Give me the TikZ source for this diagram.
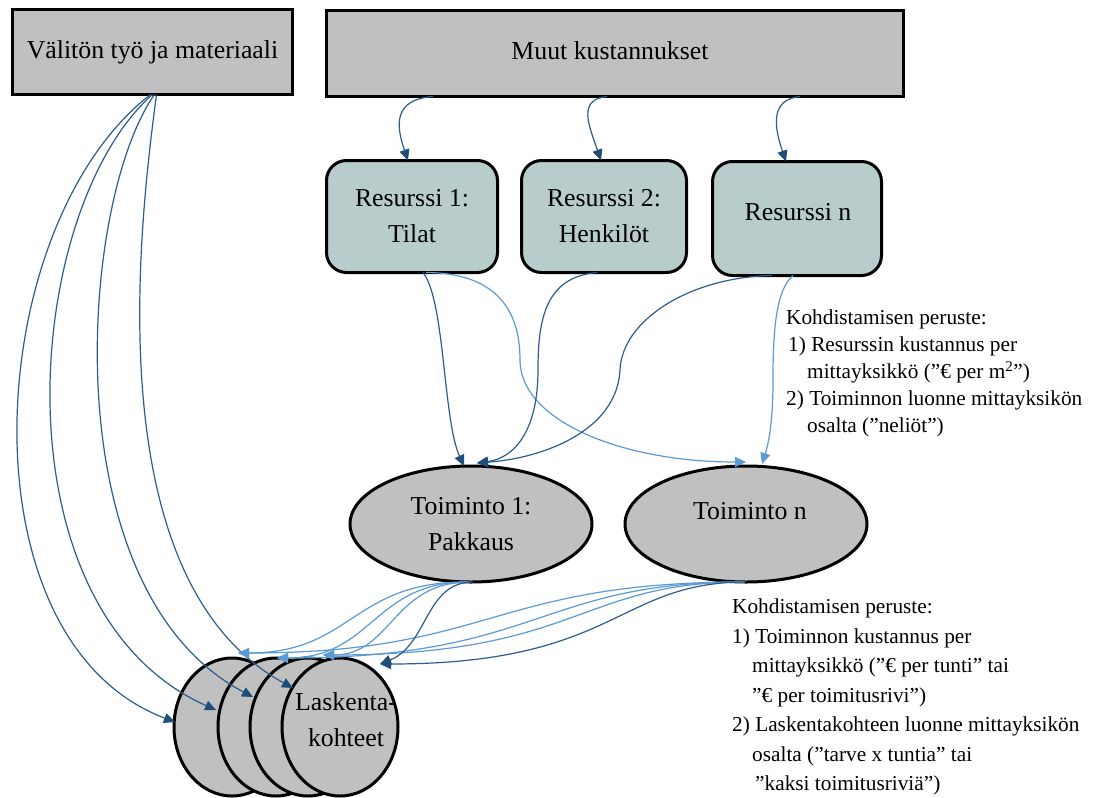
\documentclass[tikz,border=0pt]{standalone}
\usepackage{fontspec}
\setmainfont{Liberation Serif}
\usetikzlibrary{arrows.meta,calc,shapes.geometric}
\definecolor{boxgray}{HTML}{C0C0C0}
\definecolor{resfill}{HTML}{B9CCCC}
\definecolor{darkflow}{HTML}{2C5D8F}
\definecolor{darktip}{HTML}{1F4E79}
\definecolor{lightflow}{HTML}{5B9BD5}
\newcommand{\boxfont}{\fontsize{25.8pt}{36pt}\selectfont}
\newcommand{\notefont}{\fontsize{21.3pt}{27pt}\selectfont}
\newcommand{\notefontb}{\fontsize{21.3pt}{29.5pt}\selectfont}
\begin{document}
\begin{tikzpicture}[x=1pt,y=-1pt,
  costbox/.style={draw=black,line width=3pt,fill=boxgray,rectangle,inner sep=0pt,outer sep=0pt,font=\boxfont,align=center},
  resbox/.style={draw=black,line width=3pt,fill=resfill,rectangle,rounded corners=20pt,inner sep=0pt,outer sep=0pt,font=\boxfont,align=center},
  actell/.style={draw=black,line width=3pt,fill=boxgray,ellipse,inner sep=0pt,outer sep=0pt,minimum width=242pt,minimum height=116pt,font=\boxfont,align=center},
  objell/.style={draw=black,line width=3pt,fill=boxgray,ellipse,inner sep=0pt,outer sep=0pt,minimum width=116pt,minimum height=138pt},
  boxtext/.style={font=\boxfont,align=center,inner sep=0pt},
  darkcon/.style={draw=darkflow,line width=1.2pt,-{Triangle[length=11pt,width=10pt,color=darktip]}},
  lightcon/.style={draw=lightflow,line width=1.2pt,-{Triangle[length=11pt,width=10pt]}},
  note/.style={align=left,inner sep=0pt,anchor=north west}]

\fill[white] (0,0) rectangle (1101,798);
\useasboundingbox (0,0) rectangle (1101,798);

% cost sources
\node[costbox,minimum width=280pt,minimum height=85pt] (direct) at (152.5,52) {Välitön työ ja materiaali};
\node[costbox,minimum width=577pt,minimum height=86pt] (other) at (615,53.5) {};
\node[boxtext] (otherlabel) at (610,51) {Muut kustannukset};

% resources
\node[resbox,minimum width=171pt,minimum height=112pt] (r1) at (412,216.5) {Resurssi 1:\\Tilat};
\node[resbox,minimum width=165pt,minimum height=112pt] (r2) at (604,216.5) {Resurssi 2:\\Henkilöt};
\node[resbox,minimum width=169pt,minimum height=114pt] (rn) at (797,218.5) {};
\node[boxtext] (rnlabel) at (798,212) {Resurssi n};

% activities
\node[actell] (t1) at (471,524) {Toiminto 1:\\Pakkaus};
\node[actell] (tn) at (746,524) {};
\node[boxtext] (tnlabel) at (750,511) {Toiminto n};

% cost objects, back to front
\node[objell] (l1) at (232,727) {};
\node[objell] (l2) at (276,727) {};
\node[objell] (l3) at (308,727) {};
\node[objell] (l4) at (340,727) {};
\node[boxtext] (lname) at (346,720) {Laskenta-\\kohteet};

% allocation bases
\node[note,font=\notefont] (basis1) at (786,310) {Kohdistamisen peruste:\\
\hspace*{2pt}1) Resurssin kustannus per\\
\hspace*{21pt}mittayksikkö (”€ per m\textsuperscript{2}”)\\
2) Toiminnon luonne mittayksikön\\
\hspace*{21pt}osalta (”neliöt”)};
\node[note,font=\notefontb] (basis2) at (732,599) {Kohdistamisen peruste:\\
1) Toiminnon kustannus per\\
\hspace*{20pt}mittayksikkö (”€ per tunti” tai\\
\hspace*{20pt}”€ per toimitusrivi”)\\
2) Laskentakohteen luonne mittayksikön\\
\hspace*{20pt}osalta (”tarve x tuntia” tai\\
\hspace*{23pt}”kaksi toimitusriviä”)};

% other costs -> resources
\draw[darkcon] ($(other.south)+(-182,0)$) .. controls +(-40,3) and +(-12,-35) .. ($(r1.north)+(-4,0)$);
\draw[darkcon] ($(other.south)+(-8,0)$) .. controls +(-30,3) and +(-12,-35) .. ($(r2.north)+(-3,0)$);
\draw[darkcon] ($(other.south)+(185,0)$) .. controls +(-30,3) and +(-12,-35) .. ($(rn.north)+(-11,0)$);

% direct costs -> cost objects
\draw[darkcon] ($(direct.south)+(-2,0)$) .. controls (-18,225) and (-42,640) .. ($(l1.center)+(-57,-5)$);
\draw[darkcon] ($(direct.south)+(0,0)$) .. controls (22,210) and (-8,610) .. ($(l2.center)+(-60,-17)$);
\draw[darkcon] ($(direct.south)+(2,0)$) .. controls (80,200) and (50,590) .. ($(l3.center)+(-55,-30)$);
\draw[darkcon] ($(direct.south)+(4,0)$) .. controls (140,220) and (95,580) .. ($(l4.center)+(-47,-39)$);

% resources -> activities
\draw[darkcon] ($(r1.south)+(11,0)$) .. controls (445,300) and (443,420) .. ($(t1.north)+(-7,0)$);
\draw[lightcon] ($(r1.south)+(14,0)$) .. controls (505,273) and (520,320) .. (520,360)
  .. controls (520,420) and (620,462) .. ($(tn.north)+(0,-4)$);
\draw[darkcon] ($(r2.south)+(-7,0)$) .. controls (545,277) and (538,320) .. (538,370)
  .. controls (538,430) and (515,458) .. ($(t1.north)+(6,-3)$);
\draw[darkcon] ($(rn.south)+(-25,0)$) .. controls (690,277) and (622,320) .. (620,370)
  .. controls (617,430) and (545,458) .. ($(t1.north)+(6,-3)$);
\draw[lightcon] ($(rn.south)+(-4,0)$) .. controls (776,290) and (773,330) .. (773,380)
  .. controls (773,425) and (768,445) .. ($(tn.north)+(16,-2)$);

% activities -> cost objects
\draw[lightcon] ($(t1.south)+(-5,0)$) .. controls (352,582) and (352,653) .. ($(l1.north)+(6,-5)$);
\draw[lightcon] ($(t1.south)+(-3,0)$) .. controls (373,582) and (373,658) .. ($(l2.north)+(1,0)$);
\draw[lightcon] ($(t1.south)+(-1,0)$) .. controls (392,582) and (392,655) .. ($(l3.north)+(15,-3)$);
\draw[lightcon] ($(tn.south)+(-2,0)$) .. controls (492,582) and (492,653) .. ($(l1.north)+(6,-5)$);
\draw[lightcon] ($(tn.south)+(-2,0)$) .. controls (539,582) and (539,658) .. ($(l2.north)+(1,0)$);
\draw[lightcon] ($(tn.south)+(-2,0)$) .. controls (579,582) and (579,655) .. ($(l3.north)+(15,-3)$);
\draw[darkcon] ($(tn.south)+(0,0)$) .. controls (617,582) and (617,664) .. ($(l4.center)+(40,-63)$);
\draw[darkcon] ($(t1.south)+(2,0)$) .. controls (425,582) and (428,645) .. ($(l4.center)+(40,-63)$);

\end{tikzpicture}
\end{document}
